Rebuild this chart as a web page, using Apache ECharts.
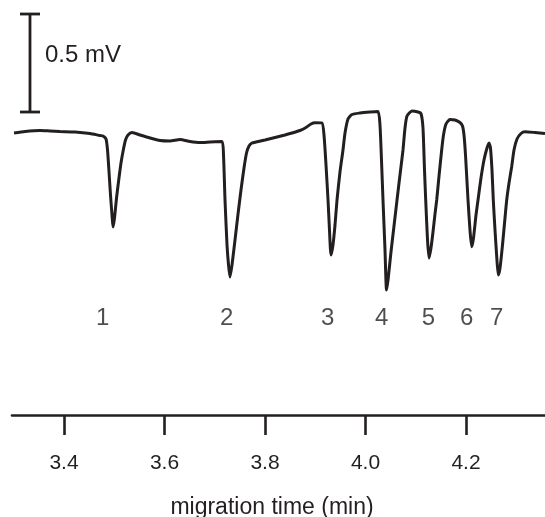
<!DOCTYPE html>
<html>
<head>
<meta charset="utf-8">
<script src="https://cdn.jsdelivr.net/npm/echarts@6/dist/echarts.min.js"></script>
<style>
html,body{margin:0;padding:0;background:#fff;}
#chart{width:545px;height:517px;}
</style>
</head>
<body>
<div id="chart"></div>
<script>
// migration time (min)
const traceTime = [
3.3005,3.3224,3.3522,3.3721,3.3920,3.4219,3.4517,3.4716,3.4776,3.4836,
3.4866,3.4896,3.4925,3.4955,3.4975,3.5005,3.5045,3.5089,3.5134,3.5180,
3.5224,3.5274,3.5353,3.5512,3.5711,3.5910,3.6109,3.6308,3.6507,3.6706,
3.6905,3.7144,3.7174,3.7204,3.7244,3.7274,3.7303,3.7343,3.7403,3.7463,
3.7522,3.7582,3.7632,3.7682,3.7741,3.7821,3.8000,3.8199,3.8398,3.8537,
3.8696,3.8816,3.8915,3.8995,3.9134,3.9174,3.9214,3.9254,3.9283,3.9313,
3.9353,3.9393,3.9433,3.9492,3.9552,3.9592,3.9652,3.9731,3.9890,4.0089,
4.0249,4.0288,4.0318,4.0348,4.0388,4.0418,4.0448,4.0507,4.0567,4.0627,
4.0686,4.0746,4.0786,4.0826,4.0925,4.1045,4.1104,4.1144,4.1174,4.1198,
4.1234,4.1264,4.1303,4.1343,4.1383,4.1417,4.1463,4.1516,4.1552,4.1602,
4.1681,4.1781,4.1880,4.1930,4.1960,4.1990,4.2040,4.2079,4.2113,4.2149,
4.2199,4.2239,4.2298,4.2358,4.2418,4.2458,4.2487,4.2517,4.2543,4.2577,
4.2613,4.2643,4.2677,4.2726,4.2776,4.2810,4.2856,4.2909,4.2955,4.3015,
4.3094,4.3174,4.3373,4.3572
];
// detector signal (mV, relative to baseline)
const traceSignal = [
0.0000,0.0077,0.0128,0.0102,0.0077,0.0051,-0.0026,-0.0128,-0.0153,-0.0306,
-0.0867,-0.1990,-0.3163,-0.4184,-0.4796,-0.4337,-0.3316,-0.2398,-0.1531,-0.0867,
-0.0357,-0.0102,0.0026,-0.0102,-0.0255,-0.0383,-0.0408,-0.0332,-0.0434,-0.0485,
-0.0459,-0.0434,-0.1122,-0.3418,-0.5714,-0.6735,-0.7347,-0.6735,-0.5459,-0.4133,
-0.2908,-0.1786,-0.1020,-0.0663,-0.0510,-0.0459,-0.0357,-0.0230,-0.0102,0.0000,
0.0128,0.0281,0.0459,0.0526,0.0510,-0.0102,-0.1633,-0.3418,-0.4949,-0.6224,
-0.5714,-0.4694,-0.3418,-0.1990,-0.0867,0.0000,0.0714,0.0944,0.1020,0.1071,
0.1097,0.0408,-0.1378,-0.3418,-0.5969,-0.8010,-0.7500,-0.6071,-0.4745,-0.3418,
-0.2143,-0.0867,0.0255,0.0867,0.1122,0.1071,0.0995,0.0255,-0.1888,-0.3418,
-0.5459,-0.6378,-0.5867,-0.5051,-0.4133,-0.3418,-0.2194,-0.0867,-0.0102,0.0459,
0.0689,0.0663,0.0536,0.0357,-0.0102,-0.1122,-0.3418,-0.4949,-0.5801,-0.5357,
-0.4184,-0.3418,-0.2296,-0.1378,-0.0765,-0.0510,-0.0765,-0.1888,-0.3418,-0.4949,
-0.6378,-0.7245,-0.6888,-0.5714,-0.4337,-0.3418,-0.2551,-0.1719,-0.0867,-0.0306,
-0.0026,0.0066,0.0026,-0.0026
];
// peak labels
const peakNames = ['1','2','3','4','5','6','7'];
const peakLabelTime = [3.477,3.7238,3.9248,4.0322,4.125,4.2014,4.2611];
const peakLabelLevel = -0.945;
// x axis ticks
const tickValues = [3.4,3.6,3.8,4.0,4.2];
// scale bar
const scaleBarTime = 3.3323;
const scaleBarBottom = 0.1071;
const scaleBarTop = 0.6071;
const scaleBarText = '0.5 mV';

const ink = '#231f20';
const font = 'Liberation Sans, Arial, Helvetica, sans-serif';

const chart = echarts.init(document.getElementById('chart'), null, {renderer:'canvas'});
chart.setOption({
  animation:false,
  backgroundColor:'#ffffff',
  grid:{left:12,right:0,top:0,bottom:102,containLabel:false,outerBoundsMode:'none'},
  xAxis:{
    type:'value', min:3.2965, max:4.3572,
    splitLine:{show:false},
    axisLine:{show:true,onZero:false,lineStyle:{color:ink,width:2.6}},
    axisTick:{show:true,customValues:tickValues,length:20,lineStyle:{color:ink,width:2.6}},
    axisLabel:{show:true,customValues:tickValues,margin:38,fontSize:21,color:ink,fontFamily:font,
      formatter:function(v){return v.toFixed(1);}},
    name:'migration time (min)', nameLocation:'middle', nameGap:81,
    nameTextStyle:{fontSize:23,color:ink,fontFamily:font,padding:[0,13,0,0]}
  },
  yAxis:{type:'value', min:-1.4388, max:0.6786, show:false, splitLine:{show:false}},
  series:[
    {type:'line',data:traceTime.map((t,i)=>[t,traceSignal[i]]),showSymbol:false,smooth:0.2,lineStyle:{color:ink,width:3},silent:true},
    {type:'scatter',data:peakLabelTime.map((t,i)=>({value:[t,peakLabelLevel],name:peakNames[i]})),symbolSize:1,itemStyle:{color:'rgba(0,0,0,0)'},
      label:{show:true,position:'inside',formatter:'{b}',fontSize:24,color:ink,fontFamily:font},silent:true},
    {type:'custom',data:[[scaleBarTime,scaleBarBottom,scaleBarTop]],
      renderItem:function(params,api){
        const b = api.coord([api.value(0),api.value(1)]);
        const t = api.coord([api.value(0),api.value(2)]);
        const st = {stroke:ink,lineWidth:2.8};
        return {type:'group',children:[
          {type:'line',shape:{x1:b[0],y1:b[1],x2:t[0],y2:t[1]},style:st},
          {type:'line',shape:{x1:b[0]-10,y1:b[1],x2:b[0]+10,y2:b[1]},style:st},
          {type:'line',shape:{x1:t[0]-10,y1:t[1],x2:t[0]+10,y2:t[1]},style:st},
          {type:'text',x:t[0]+15,y:t[1]+41,style:{text:scaleBarText,fontSize:24,fill:ink,fontFamily:font,verticalAlign:'middle',align:'left'}}
        ]};
      },silent:true}
  ]
});
</script>
</body>
</html>
